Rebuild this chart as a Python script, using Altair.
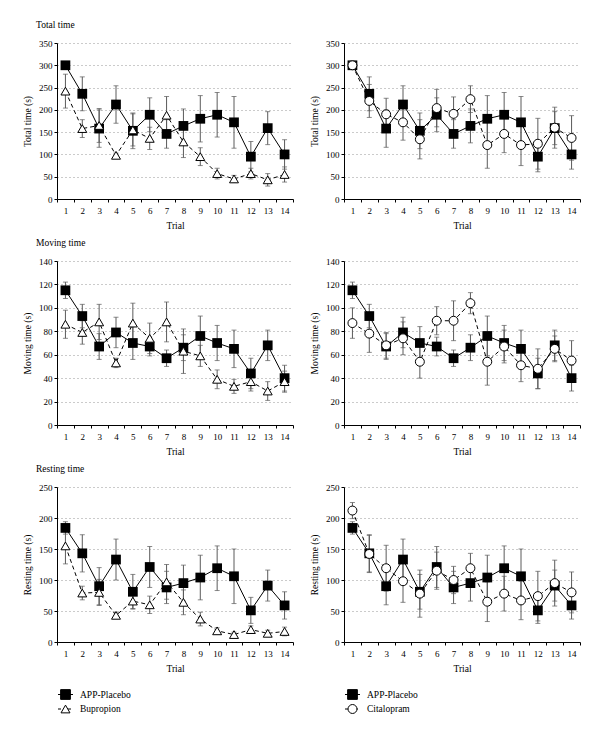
import altair as alt
import pandas as pd

trials = list(range(1, 15))

# Total time (s)
placebo_total = [300, 236, 158, 212, 153, 189, 146, 164, 180, 189, 172, 95, 159, 100]
placebo_total_se = [0, 38, 42, 42, 40, 38, 32, 38, 52, 50, 58, 34, 37, 33]
bup_total = [242, 158, 165, 98, 155, 136, 188, 128, 95, 57, 45, 57, 43, 55]
bup_total_se = [38, 20, 38, 5, 36, 25, 42, 35, 20, 12, 8, 12, 14, 17]
cit_total = [300, 220, 190, 172, 134, 204, 191, 224, 121, 146, 121, 124, 160, 137]
cit_total_se = [0, 37, 36, 40, 44, 42, 38, 30, 52, 42, 46, 57, 46, 50]

# Moving time (s)
placebo_moving = [115, 93, 67, 79, 70, 67, 57, 66, 76, 70, 65, 44, 68, 40]
placebo_moving_se = [7, 10, 11, 13, 14, 8, 7, 11, 17, 15, 16, 13, 13, 11]
bup_moving = [86, 79, 88, 53, 87, 74, 88, 63, 59, 39, 33, 37, 29, 37]
bup_moving_se = [12, 10, 15, 4, 17, 13, 17, 19, 9, 8, 6, 8, 8, 9]
cit_moving = [87, 78, 68, 74, 54, 89, 89, 104, 54, 67, 51, 48, 65, 55]
cit_moving_se = [13, 16, 11, 14, 14, 12, 17, 9, 20, 14, 14, 17, 11, 17]

# Resting time (s)
placebo_rest = [184, 143, 90, 133, 81, 121, 88, 95, 104, 119, 106, 51, 91, 59]
placebo_rest_se = [10, 30, 30, 33, 28, 33, 26, 29, 36, 36, 44, 21, 25, 22]
bup_rest = [155, 79, 80, 43, 66, 60, 97, 64, 37, 18, 12, 20, 14, 17]
bup_rest_se = [29, 11, 21, 4, 12, 14, 28, 20, 11, 5, 4, 6, 5, 7]
cit_rest = [212, 142, 119, 98, 78, 115, 100, 119, 65, 78, 67, 74, 95, 80]
cit_rest_se = [13, 30, 37, 34, 38, 30, 22, 24, 32, 28, 31, 40, 37, 33]

panel_titles = ["Total time", "Moving time", "Resting time"]

FONT = "Liberation Serif"
W = 236


def frame(vals, ses):
    return pd.DataFrame({
        "trial": trials,
        "value": vals,
        "lo": [v - s for v, s in zip(vals, ses)],
        "hi": [v + s for v, s in zip(vals, ses)],
    })


AX_COMMON = dict(labelFont=FONT, titleFont=FONT, labelColor="black",
                 titleColor="black", domainColor="black", tickColor="black",
                 titleFontWeight="normal", domainWidth=1, tickWidth=1,
                 labelFontSize=9, titleFontSize=9.5)


def panel(placebo, drug, drug_shape, drug_name, ymax, ystep, ytitle, height,
          title=None, legend=False):
    xenc = alt.X("trial:O", title="Trial",
                 scale=alt.Scale(paddingInner=0, paddingOuter=0),
                 axis=alt.Axis(labelAngle=0, tickBand="extent", tickSize=3,
                               labelPadding=4, titlePadding=5.5, grid=False,
                               **AX_COMMON))
    yaxis = alt.Axis(values=list(range(0, ymax + 1, ystep)), grid=True,
                     gridDash=[1, 3], gridColor="#8a8a8a", gridWidth=0.9,
                     tickSize=3, labelPadding=2, titlePadding=6, **AX_COMMON)

    def Y(field):
        return alt.Y(field, title=ytitle,
                     scale=alt.Scale(domain=[0, ymax], nice=False), axis=yaxis)

    layers = []
    for df in (placebo, drug):
        b = alt.Chart(df)
        layers.append(b.mark_rule(color="#5a5a5a", strokeWidth=1).encode(
            x=xenc, y=Y("lo:Q"), y2="hi:Q"))
        layers.append(b.mark_tick(color="#5a5a5a", size=5, thickness=1,
                                  orient="horizontal").encode(x=xenc, y=Y("lo:Q")))
        layers.append(b.mark_tick(color="#5a5a5a", size=5, thickness=1,
                                  orient="horizontal").encode(x=xenc, y=Y("hi:Q")))
    pb = alt.Chart(placebo)
    layers.append(pb.mark_line(color="black", strokeWidth=1).encode(x=xenc, y=Y("value:Q")))
    layers.append(pb.mark_point(shape="square", filled=True, color="black",
                                size=95, opacity=1).encode(x=xenc, y=Y("value:Q")))
    db = alt.Chart(drug)
    layers.append(db.mark_line(color="black", strokeWidth=1,
                               strokeDash=[4, 3]).encode(x=xenc, y=Y("value:Q")))
    layers.append(db.mark_point(shape=drug_shape, filled=True, fill="white",
                                stroke="black", strokeWidth=1, size=80,
                                opacity=1).encode(x=xenc, y=Y("value:Q")))

    if title:
        td = alt.Chart(pd.DataFrame({"t": [title]}))
        layers.append(td.mark_text(align="left", baseline="middle", font=FONT,
                                   fontSize=9.5, color="black").encode(
            x=alt.value(-21), y=alt.value(-18.5), text="t:N"))

    if legend:
        entries = [("APP-Placebo", "square", "black", [1, 0], 95),
                   (drug_name, drug_shape, "white", [3, 2], 80)]
        for i, (name, shp, fillc, dash, sz) in enumerate(entries):
            yy = height + 52.5 + i * 14.5
            ld = alt.Chart(pd.DataFrame({"label": [name]}))
            layers.append(ld.mark_rule(color="black", strokeWidth=1,
                                       strokeDash=dash).encode(
                x=alt.value(1), x2=alt.value(16), y=alt.value(yy)))
            layers.append(ld.mark_point(shape=shp, filled=True, fill=fillc,
                                        stroke="black", strokeWidth=1, size=sz,
                                        opacity=1).encode(
                x=alt.value(8.5), y=alt.value(yy)))
            layers.append(ld.mark_text(align="left", baseline="middle",
                                       font=FONT, fontSize=9.5, color="black").encode(
                x=alt.value(23), y=alt.value(yy), text="label:N"))

    return alt.layer(*layers).properties(width=W, height=height)


pl_t = frame(placebo_total, placebo_total_se)
pl_m = frame(placebo_moving, placebo_moving_se)
pl_r = frame(placebo_rest, placebo_rest_se)

row1 = alt.hconcat(
    panel(pl_t, frame(bup_total, bup_total_se), "triangle-up", "Bupropion",
          350, 50, "Total time (s)", 156, title=panel_titles[0]),
    panel(pl_t, frame(cit_total, cit_total_se), "circle", "Citalopram",
          350, 50, "Total time (s)", 156),
    spacing=15).resolve_scale(x="independent", y="independent")
row2 = alt.hconcat(
    panel(pl_m, frame(bup_moving, bup_moving_se), "triangle-up", "Bupropion",
          140, 20, "Moving time (s)", 164, title=panel_titles[1]),
    panel(pl_m, frame(cit_moving, cit_moving_se), "circle", "Citalopram",
          140, 20, "Moving time (s)", 164),
    spacing=15).resolve_scale(x="independent", y="independent")
row3 = alt.hconcat(
    panel(pl_r, frame(bup_rest, bup_rest_se), "triangle-up", "Bupropion",
          250, 50, "Resting time (s)", 155, title=panel_titles[2], legend=True),
    panel(pl_r, frame(cit_rest, cit_rest_se), "circle", "Citalopram",
          250, 50, "Resting time (s)", 155, legend=True),
    spacing=15).resolve_scale(x="independent", y="independent")

chart = alt.vconcat(row1, row2, row3, spacing=7).resolve_scale(
    x="independent", y="independent"
).properties(
    padding={"left": 14, "top": 11, "right": 5, "bottom": 5},
    background="white"
).configure_view(stroke=None).configure_axis(
    labelFont=FONT, titleFont=FONT, labelColor="black", titleColor="black",
    domainColor="black", tickColor="black", titleFontWeight="normal"
)

chart.save("out.html", embed_options={"renderer": "svg", "actions": False})
